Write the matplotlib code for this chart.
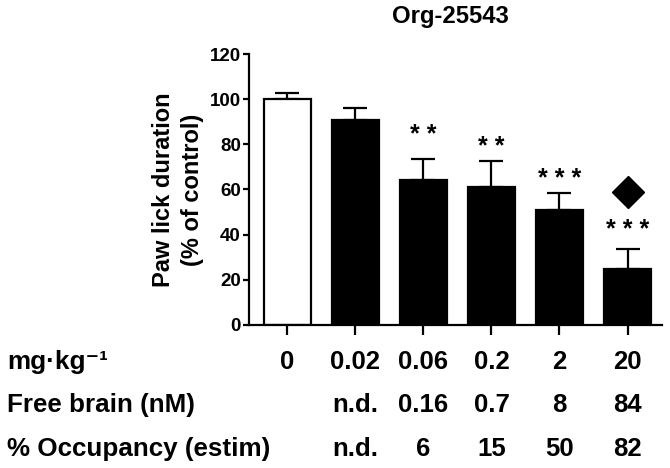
import matplotlib
matplotlib.use("Agg")
import matplotlib.pyplot as plt
import matplotlib.transforms as mtransforms

plt.rcParams['font.family'] = ['Liberation Sans', 'DejaVu Sans']
plt.rcParams['font.weight'] = 'bold'

# data
doses = ["0", "0.02", "0.06", "0.2", "2", "20"]
free_brain = ["", "n.d.", "0.16", "0.7", "8", "84"]
occupancy = ["", "n.d.", "6", "15", "50", "82"]
paw_lick = [100, 90.7, 64.2, 60.9, 50.7, 24.6]
sem = [2.8, 5.6, 9.4, 11.5, 7.8, 8.9]
stars = ["", "", "* *", "* *", "* * *", "* * *"]
star_y = [0, 0, 84, 79, 64.5, 42]
diamond_bar = 5
diamond_y = 59

fig = plt.figure(figsize=(6.7, 4.68), dpi=100)
ax = fig.add_axes([0.372, 0.3056, 0.6164, 0.579])

x = list(range(len(paw_lick)))
colors = ["white"] + ["black"] * (len(paw_lick) - 1)

ax.bar(x, paw_lick, width=0.7, color=colors, edgecolor="black", linewidth=1.6, zorder=2)
ax.errorbar(x, paw_lick, yerr=[[0] * len(sem), sem], fmt="none", ecolor="black",
            elinewidth=1.6, capsize=8.5, capthick=1.6, zorder=1)

for xi, s, sy in zip(x, stars, star_y):
    if s:
        ax.text(xi, sy, s, ha="center", va="center", fontsize=18, fontweight="bold")

ax.plot(diamond_bar, diamond_y, marker="D", markersize=16, color="black", clip_on=False)

ax.set_xlim(-0.56, 5.51)
ax.set_ylim(0, 120)
ax.set_yticks(range(0, 121, 20))
ax.set_xticks(x)
ax.set_xticklabels([])
ax.tick_params(axis="y", labelsize=13.5, width=1.6, length=4, pad=2)
ax.tick_params(axis="x", width=1.6, length=7)
for sp in ["top", "right"]:
    ax.spines[sp].set_visible(False)
for sp in ["left", "bottom"]:
    ax.spines[sp].set_linewidth(1.6)

ax.set_ylabel("Paw lick duration\n(% of control)", fontsize=17, fontweight="bold",
              linespacing=1.35, labelpad=4)

fig.text(0.672, 1 - 17 / 468, "Org-25543", ha="center", va="center",
         fontsize=17.2, fontweight="bold")

# table under the bars
trans = mtransforms.blended_transform_factory(ax.transData, fig.transFigure)
row_labels = ["mg·kg⁻¹", "Free brain (nM)", "% Occupancy (estim)"]
rows = [doses, free_brain, occupancy]
baselines = [369, 412, 456]
for lab, vals, yb in zip(row_labels, rows, baselines):
    yf = 1 - yb / 468
    fig.text(7 / 670, yf, lab, ha="left", va="baseline", fontsize=18.7, fontweight="bold")
    for xi, v in zip(x, vals):
        if v:
            ax.text(xi, yf, v, transform=trans, ha="center", va="baseline",
                    fontsize=18.5, fontweight="bold")

fig.savefig("out.png", dpi=100)
